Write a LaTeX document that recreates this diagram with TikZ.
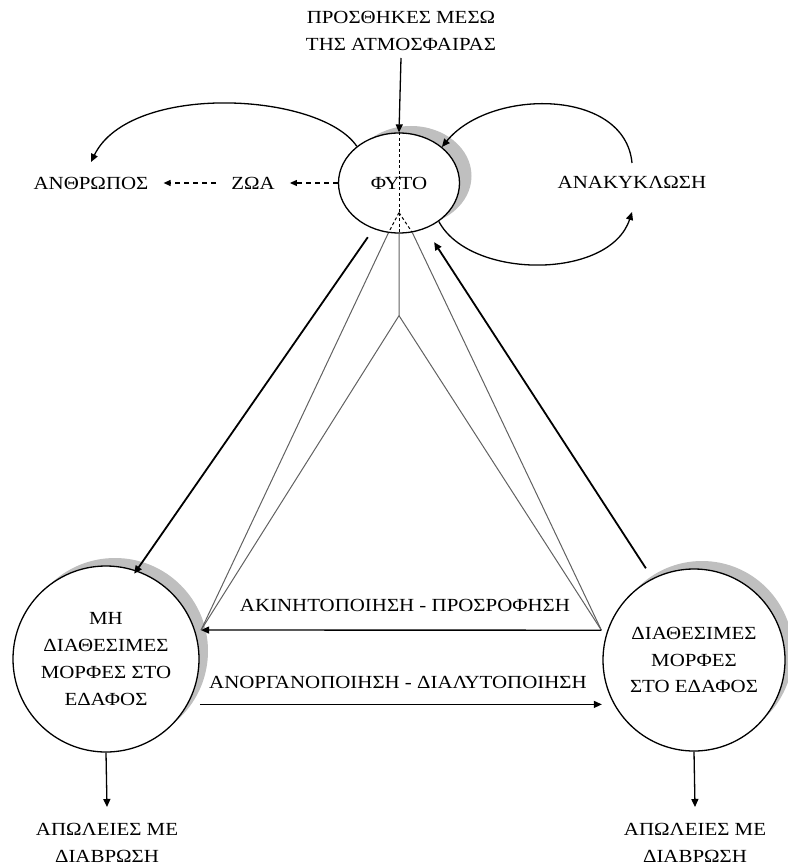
\documentclass[tikz,border=0pt]{standalone}
\usepackage{fontspec}
\setmainfont[FakeStretch=1.13]{Liberation Serif}
\usetikzlibrary{arrows.meta,shapes.geometric,calc}
\begin{document}
\begin{tikzpicture}[x=1pt,y=-1pt,
  txt/.style={font=\fontsize{18.5}{26.7}\selectfont, align=center, inner sep=3pt},
  lbl/.style={txt, inner xsep=15pt},
  arr/.style={-{Triangle[length=8pt,width=7pt]}, line width=1.3pt},
  thk/.style={arr, line width=1.8pt},
  thinln/.style={line width=1pt, draw=black!62},
  dsh/.style={dash pattern=on 5pt off 4pt, line width=1.1pt, -{Triangle[length=7pt,width=6pt]}},
  innerdash/.style={dash pattern=on 3pt off 2.5pt, line width=1pt},
  shd/.style={fill=black!25, draw=none},
  circ/.style={circle, draw, line width=1.3pt, fill=white, inner sep=0pt, txt}]
\useasboundingbox (0,0) rectangle (787,866);
% shadows
\fill[shd] (411,176) ellipse [x radius=60.5pt, y radius=50pt];
\fill[shd] (115,651) circle [radius=93pt];
\fill[shd] (702,652) circle [radius=91pt];
% nodes
\node[txt] (top) at (401,31) {ΠΡΟΣΘΗΚΕΣ ΜΕΣΩ\\ΤΗΣ ΑΤΜΟΣΦΑΙΡΑΣ};
\node[ellipse, draw, line width=1.3pt, fill=white, minimum width=121pt, minimum height=100pt, inner sep=0pt, txt] (fyto) at (399,183) {ΦΥΤΟ};
\node[lbl] (zoa) at (253,183) {ΖΩΑ};
\node[lbl] (anth) at (91,183) {ΑΝΘΡΩΠΟΣ};
\node[txt] (anak) at (632,182) {ΑΝΑΚΥΚΛΩΣΗ};
\node[circ, minimum size=186pt] (mh) at (106,659) {ΜΗ\\ΔΙΑΘΕΣΙΜΕΣ\\ΜΟΡΦΕΣ ΣΤΟ\\ΕΔΑΦΟΣ};
\node[circ, minimum size=182pt] (dia) at (694,660) {ΔΙΑΘΕΣΙΜΕΣ\\ΜΟΡΦΕΣ\\ΣΤΟ ΕΔΑΦΟΣ};
\node[txt] (loss1) at (107,843) {ΑΠΩΛΕΙΕΣ ΜΕ\\ΔΙΑΒΡΩΣΗ};
\node[txt] (loss2) at (695,843) {ΑΠΩΛΕΙΕΣ ΜΕ\\ΔΙΑΒΡΩΣΗ};
\node[txt] (akt) at (405,605) {ΑΚΙΝΗΤΟΠΟΙΗΣΗ - ΠΡΟΣΡΟΦΗΣΗ};
\node[txt] (ano) at (398,682) {ΑΝΟΡΓΑΝΟΠΟΙΗΣΗ - ΔΙΑΛΥΤΟΠΟΙΗΣΗ};
% coordinates
\coordinate (innerpt) at ($(fyto.south)+(0,-21)$);
\coordinate (fork) at ($(fyto.south)+(0,82)$);
\coordinate (pL) at ($(mh.18)+(6,0)$);
\coordinate (pR) at ($(dia.161)+(-6,0)$);
\coordinate (qL) at ([xshift=12pt]mh.-29);
\coordinate (qR) at ([xshift=-12pt]dia.209);
% dashed inside plant
\draw[innerdash] (fyto.north) -- (innerpt);
\draw[innerdash] (innerpt) -- (fyto.258);
\draw[innerdash] (innerpt) -- (fyto.south);
\draw[innerdash] (innerpt) -- (fyto.285);
% thin lines
\draw[thinln] (fyto.258) -- (pL);
\draw[thinln] (fyto.south) -- (fork) -- (pL);
\draw[thinln] (fork) -- (pR);
\draw[thinln] (fyto.285) -- (pR);
% thick arrows
\draw[thk, shorten <=10pt, shorten >=-4pt] (fyto.241) -- (mh.71);
\draw[thk, shorten <=12pt, shorten >=16pt] (dia.117) -- (fyto.300);
% horizontal arrows
\draw[arr] (pR) -- (pL);
\draw[arr] (qL) -- (qL -| qR);
% top
\draw[arr] ([yshift=-27pt]top.center) -- (fyto.north);
% dashed chain
\draw[dsh] (fyto.west) -- (zoa.east);
\draw[dsh] (zoa.west) -- (anth.east);
% curves
\draw[arr] (fyto.139) .. controls (320,92) and (130,82) .. ([yshift=21pt]anth.center);
\draw[arr] ([yshift=19pt]anak.center) .. controls (625,88) and (490,88) .. (fyto.40);
\draw[arr] (fyto.316) .. controls (470,280) and (610,280) .. ([yshift=-30pt]anak.center);
% losses
\draw[arr] (mh.south) -- ([yshift=36pt]loss1.center);
\draw[arr] (dia.south) -- ([yshift=36pt]loss2.center);
\end{tikzpicture}
\end{document}
